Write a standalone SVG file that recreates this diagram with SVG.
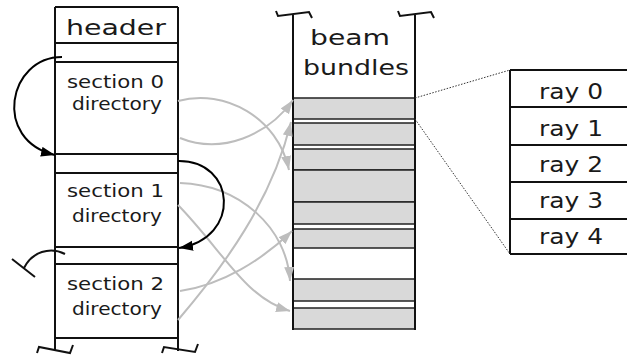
<svg xmlns="http://www.w3.org/2000/svg" width="627" height="356" viewBox="0 0 627 356">
<defs>
<style>
.t{font-family:"DejaVu Sans","Liberation Sans",sans-serif;fill:#1a1a1a;}
.s{font-size:17px;}
.b{font-size:21px;}
.ln{stroke:#111;stroke-width:2;fill:none;}
.bx{fill:#d9d9d9;stroke:#222;stroke-width:1.5;}
.ga{stroke:#bdbdbd;stroke-width:2;fill:none;marker-end:url(#gh);}
.ka{stroke:#000;stroke-width:2;fill:none;marker-end:url(#kh);}
.dot{stroke:#333;stroke-width:1;stroke-dasharray:1.5 1.5;fill:none;}
</style>
<marker id="gh" markerUnits="userSpaceOnUse" markerWidth="15" markerHeight="11" refX="14" refY="5" orient="auto"><path d="M0,0 L14,5 L0,10 z" fill="#bdbdbd"/></marker>
<marker id="kh" markerUnits="userSpaceOnUse" markerWidth="15" markerHeight="11" refX="14" refY="5" orient="auto"><path d="M0,0 L14,5 L0,10 z" fill="#000"/></marker>
</defs>
<rect width="627" height="356" fill="#fff"/>

<g id="file-column">
<path class="ln" d="M55,7 V351 M178,7 V351 M55,7 H178 M55,43 H178 M55,62 H178 M55,173 H178 M55,264 H178 M55,338 H178"/>
<path class="ln" stroke-width="3" d="M55,154 H178 M55,247 H178"/>
<path class="ln" d="M37,353 L39,347 L70,353 L73,345 M162,353 L164,347 L195,352 L198,344"/>
</g>
<g id="header"><text class="t b" x="66" y="35" textLength="100" lengthAdjust="spacingAndGlyphs">header</text></g>
<g id="section0"><text class="t s" x="67" y="88" textLength="97" lengthAdjust="spacingAndGlyphs">section 0</text><text class="t s" x="72" y="110" textLength="90" lengthAdjust="spacingAndGlyphs">directory</text></g>
<g id="section1"><text class="t s" x="67" y="197" textLength="97" lengthAdjust="spacingAndGlyphs">section 1</text><text class="t s" x="72" y="222" textLength="90" lengthAdjust="spacingAndGlyphs">directory</text></g>
<g id="section2"><text class="t s" x="67" y="290" textLength="97" lengthAdjust="spacingAndGlyphs">section 2</text><text class="t s" x="72" y="315" textLength="90" lengthAdjust="spacingAndGlyphs">directory</text></g>

<g id="beam-bundles">
<rect class="bx" x="293" y="98" width="122" height="21"/>
<rect class="bx" x="293" y="123" width="122" height="22"/>
<rect class="bx" x="293" y="149" width="122" height="21"/>
<rect class="bx" x="293" y="170" width="122" height="32"/>
<rect class="bx" x="293" y="202" width="122" height="22"/>
<rect class="bx" x="293" y="229" width="122" height="19"/>
<rect class="bx" x="293" y="279" width="122" height="22"/>
<rect class="bx" x="293" y="308" width="122" height="21"/>
<path class="ln" d="M293,15 V330 M415,15 V330"/>
<path class="ln" d="M276,11 L278,16 L309,12 L312,18 M398,11 L400,16 L431,12 L434,18"/>
<text class="t b" x="310" y="45" textLength="80" lengthAdjust="spacingAndGlyphs">beam</text>
<text class="t b" x="303" y="75" textLength="106" lengthAdjust="spacingAndGlyphs">bundles</text>
</g>

<g id="rays">
<path class="ln" d="M510,70 H627 M510,107 H627 M510,145 H627 M510,182 H627 M510,219 H627 M510,254 H627 M510,70 V254"/>
<text class="t b" x="539" y="99" textLength="64" lengthAdjust="spacingAndGlyphs">ray 0</text>
<text class="t b" x="539" y="136" textLength="64" lengthAdjust="spacingAndGlyphs">ray 1</text>
<text class="t b" x="539" y="172" textLength="64" lengthAdjust="spacingAndGlyphs">ray 2</text>
<text class="t b" x="539" y="208" textLength="64" lengthAdjust="spacingAndGlyphs">ray 3</text>
<text class="t b" x="539" y="244" textLength="64" lengthAdjust="spacingAndGlyphs">ray 4</text>
</g>

<g id="connectors">
<path class="dot" d="M415,98 L510,70 M415,119 L510,254"/>
<path class="ga" d="M178,101 C225,88 278,118 289,170"/>
<path class="ga" d="M180,138 C222,155 268,135 293,100"/>
<path class="ga" d="M178,320 C225,265 272,200 291,122"/>
<path class="ga" d="M180,183 C240,185 287,228 290,281"/>
<path class="ga" d="M178,205 C222,250 245,298 290,311"/>
<path class="ga" d="M180,291 C222,285 262,260 292,231"/>
<path class="ka" d="M62,57 C8,57 -8,140 55,155"/>
<path class="ka" d="M178,161 C236,160 242,238 179,248"/>
<path class="ln" d="M65,254 C50,246 32,252 24,268 M12,259 L35,277"/>
</g>
</svg>
